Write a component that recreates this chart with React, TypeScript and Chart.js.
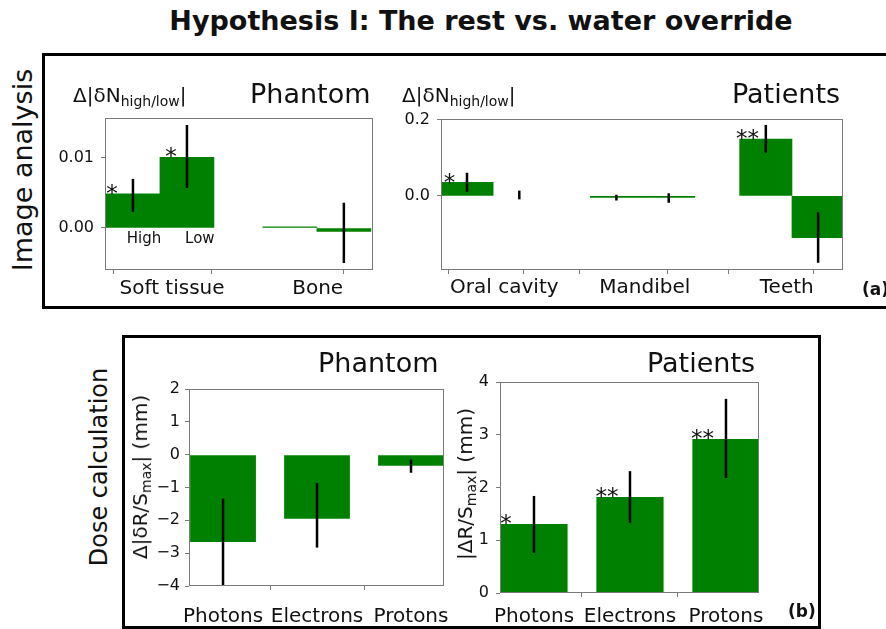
import React, { useEffect, useRef } from 'react';
import { Chart, registerables } from 'chart.js';

Chart.register(...registerables);

const FONT = "'DejaVu Sans', 'Noto Sans', sans-serif";
const GREEN = '#008000';
const AXIS = '#7a7a7a';
const INK = '#111111';

// ---------- (a) Image analysis : Phantom ----------
const phantomAPos = [0, 0.456, 1.325, 1.781];
const phantomAValues = [0.00486, 0.0101, 0.00015, -0.0005];
const phantomAErrLow = [0.0023, 0.0057, null, -0.005];
const phantomAErrHigh = [0.007, 0.0147, null, 0.0036];
const phantomACategories = ['Soft tissue', 'Bone'];
const phantomACategoryPos = [0.33, 1.56];
const phantomATickMarks = [0, 1, 2];
const phantomAYTicks = [0, 0.01];
const phantomAYTickLabels = ['0.00', '0.01'];
const phantomAStars = [
  { x: -0.177, y: 0.00571, text: '*' },
  { x: 0.321, y: 0.011, text: '*' },
];
const phantomALevels = [
  { x: 0.093, y: -0.00143, text: 'High' },
  { x: 0.565, y: -0.00143, text: 'Low' },
];

// ---------- (a) Image analysis : Patients ----------
const patientsAPos = [0, 0.7, 2, 2.7, 4, 4.7];
const patientsAValues = [0.036, 0.0, -0.004, -0.004, 0.15, -0.11];
const patientsAErrLow = [0.011, -0.009, -0.012, -0.018, 0.114, -0.176];
const patientsAErrHigh = [0.061, 0.014, 0.003, 0.007, 0.187, -0.043];
const patientsACategories = ['Oral cavity', 'Mandibel', 'Teeth'];
const patientsACategoryPos = [0.5, 2.38, 4.28];
const patientsATickMarks = [0, 1, 2, 3, 4, 5];
const patientsAYTicks = [0, 0.2];
const patientsAYTickLabels = ['0.0', '0.2'];
const patientsAStars = [
  { x: -0.234, y: 0.0487, text: '*' },
  { x: 3.755, y: 0.166, text: '**' },
];

// ---------- (b) Dose calculation : Phantom ----------
const beams = ['Photons', 'Electrons', 'Protons'];
const beamPos = [0, 1, 2];
const phantomBValues = [-2.66, -1.95, -0.34];
const phantomBErrLow = [-3.98, -2.83, -0.55];
const phantomBErrHigh = [-1.34, -0.86, -0.15];
const phantomBYTicks = [-4, -3, -2, -1, 0, 1, 2];
const phantomBYTickLabels = ['\u22124', '\u22123', '\u22122', '\u22121', '0', '1', '2'];

// ---------- (b) Dose calculation : Patients ----------
const patientsBValues = [1.31, 1.82, 2.92];
const patientsBErrLow = [0.76, 1.33, 2.18];
const patientsBErrHigh = [1.84, 2.31, 3.68];
const patientsBYTicks = [0, 1, 2, 3, 4];
const patientsBYTickLabels = ['0', '1', '2', '3', '4'];
const patientsBStars = [
  { x: -0.292, y: 1.42, text: '*' },
  { x: 0.76, y: 1.924, text: '**' },
  { x: 1.755, y: 3.024, text: '**' },
];

type Note = { x: number; y: number; text: string };
type Spec = {
  pos: number[];
  values: number[];
  errLow: (number | null)[];
  errHigh: (number | null)[];
  xMin: number;
  xMax: number;
  yMin: number;
  yMax: number;
  marks: number[];
  catPos: number[];
  cats: string[];
  yTicks: number[];
  yTickLabels: string[];
  stars: Note[];
  levels: Note[];
  barPct: number;
  box: { left: number; top: number; width: number; height: number };
  area: { left: number; top: number; right: number; bottom: number };
  xPad: number;
  yPad: number;
};

type XTick = { value: number; label: string; mark: boolean };

function buildXTicks(marks: number[], catPos: number[], cats: string[]): XTick[] {
  const list: XTick[] = marks.map((v) => ({ value: v, label: '', mark: true }));
  catPos.forEach((v, i) => {
    const ex = list.find((t) => Math.abs(t.value - v) < 1e-9);
    if (ex) ex.label = cats[i];
    else list.push({ value: v, label: cats[i], mark: false });
  });
  return list.sort((a, b) => a.value - b.value);
}

const TICK_LEN = 4;

function decorPlugin(spec: Spec) {
  return {
    id: 'decor',
    afterDatasetsDraw(chart: any) {
      const { ctx, chartArea: a } = chart;
      const xs = chart.scales.xb;
      const ys = chart.scales.y;
      // error bars
      ctx.save();
      ctx.beginPath();
      ctx.rect(a.left, a.top, a.right - a.left, a.bottom - a.top);
      ctx.clip();
      ctx.strokeStyle = '#000';
      ctx.lineWidth = 2.5;
      spec.pos.forEach((p, i) => {
        const lo = spec.errLow[i];
        const hi = spec.errHigh[i];
        if (lo == null || hi == null) return;
        const x = xs.getPixelForValue(p);
        ctx.beginPath();
        ctx.moveTo(x, ys.getPixelForValue(lo));
        ctx.lineTo(x, ys.getPixelForValue(hi));
        ctx.stroke();
      });
      ctx.restore();
      // frame
      ctx.save();
      ctx.strokeStyle = AXIS;
      ctx.lineWidth = 1;
      const l = Math.round(a.left);
      const t = Math.round(a.top);
      const r = Math.round(a.right);
      const b = Math.round(a.bottom);
      ctx.strokeRect(l + 0.5, t + 0.5, r - l - 1, b - t - 1);
      ctx.restore();
      // notes
      ctx.save();
      ctx.fillStyle = INK;
      ctx.textAlign = 'center';
      ctx.textBaseline = 'alphabetic';
      const starSize = 23;
      ctx.font = `${starSize}px ${FONT}`;
      spec.stars.forEach((n) => {
        ctx.fillText(n.text, xs.getPixelForValue(n.x), ys.getPixelForValue(n.y) + starSize * 0.55);
      });
      const lvlSize = 15;
      ctx.font = `${lvlSize}px ${FONT}`;
      spec.levels.forEach((n) => {
        ctx.fillText(n.text, xs.getPixelForValue(n.x), ys.getPixelForValue(n.y) + lvlSize * 0.36);
      });
      ctx.restore();
    },
  };
}

function ChartPanel({ spec }: { spec: Spec }) {
  const ref = useRef<HTMLCanvasElement>(null);
  useEffect(() => {
    const canvas = ref.current;
    if (!canvas) return;
    const { box, area } = spec;
    const yW = area.left - box.left;
    const xH = box.top + box.height - area.bottom;
    const xTicks = buildXTicks(spec.marks, spec.catPos, spec.cats);
    const chart = new Chart(canvas, {
      type: 'bar',
      data: {
        datasets: [
          {
            data: spec.pos.map((x, i) => ({ x, y: spec.values[i] })),
            backgroundColor: spec.values.map((v) => (v === 0 ? 'rgba(0,0,0,0)' : GREEN)),
            borderWidth: 0,
            xAxisID: 'xb',
            yAxisID: 'y',
            barPercentage: spec.barPct,
            categoryPercentage: 1,
          } as any,
        ],
      },
      options: {
        animation: false,
        responsive: false,
        maintainAspectRatio: false,
        events: [],
        layout: {
          padding: {
            left: 0,
            top: area.top - box.top,
            right: box.left + box.width - area.right,
            bottom: 0,
          },
        },
        plugins: { legend: { display: false }, tooltip: { enabled: false } },
        scales: {
          xb: {
            type: 'linear',
            display: false,
            min: spec.xMin,
            max: spec.xMax,
            offset: false,
            afterBuildTicks: (s: any) => {
              s.ticks = spec.pos.map((v) => ({ value: v }));
            },
          },
          x: {
            type: 'linear',
            position: 'bottom',
            min: spec.xMin,
            max: spec.xMax,
            offset: false,
            afterBuildTicks: (s: any) => {
              s.ticks = xTicks.map((t) => ({ value: t.value }));
            },
            afterFit: (s: any) => {
              s.height = xH;
            },
            border: { display: false },
            grid: {
              drawOnChartArea: false,
              drawTicks: true,
              tickLength: TICK_LEN,
              tickWidth: 1,
              tickColor: (c: any) => (xTicks[c.index] && xTicks[c.index].mark ? AXIS : 'rgba(0,0,0,0)'),
            },
            ticks: {
              autoSkip: false,
              maxRotation: 0,
              minRotation: 0,
              padding: spec.xPad,
              color: INK,
              font: { family: FONT, size: 20 },
              callback: (_v: any, i: number) => (xTicks[i] ? xTicks[i].label : ''),
            },
          },
          y: {
            type: 'linear',
            position: 'left',
            min: spec.yMin,
            max: spec.yMax,
            afterBuildTicks: (s: any) => {
              s.ticks = spec.yTicks.map((v) => ({ value: v }));
            },
            afterFit: (s: any) => {
              s.width = yW;
            },
            border: { display: false },
            grid: {
              drawOnChartArea: false,
              drawTicks: true,
              tickLength: TICK_LEN,
              tickWidth: 1,
              tickColor: AXIS,
            },
            ticks: {
              padding: spec.yPad,
              color: INK,
              font: { family: FONT, size: 16 },
              callback: (_v: any, i: number) => spec.yTickLabels[i] ?? '',
            },
          },
        } as any,
      },
      plugins: [decorPlugin(spec)],
    });
    return () => chart.destroy();
  }, [spec]);
  const { box } = spec;
  return (
    <canvas
      ref={ref}
      width={box.width}
      height={box.height}
      style={{ position: 'absolute', left: box.left, top: box.top, width: box.width, height: box.height }}
    />
  );
}

const specA1: Spec = {
  pos: phantomAPos,
  values: phantomAValues,
  errLow: phantomAErrLow,
  errHigh: phantomAErrHigh,
  xMin: -0.236,
  xMax: 2.027,
  yMin: -0.006,
  yMax: 0.0157,
  marks: phantomATickMarks,
  catPos: phantomACategoryPos,
  cats: phantomACategories,
  yTicks: phantomAYTicks,
  yTickLabels: phantomAYTickLabels,
  stars: phantomAStars,
  levels: phantomALevels,
  barPct: 1,
  box: { left: 45, top: 100, width: 350, height: 209 },
  area: { left: 105, top: 118, right: 373, bottom: 270 },
  xPad: 3,
  yPad: 7,
};

const specA2: Spec = {
  pos: patientsAPos,
  values: patientsAValues,
  errLow: patientsAErrLow,
  errHigh: patientsAErrHigh,
  xMin: -0.348,
  xMax: 5.033,
  yMin: -0.195,
  yMax: 0.2026,
  marks: patientsATickMarks,
  catPos: patientsACategoryPos,
  cats: patientsACategories,
  yTicks: patientsAYTicks,
  yTickLabels: patientsAYTickLabels,
  stars: patientsAStars,
  levels: [],
  barPct: 1,
  box: { left: 390, top: 100, width: 480, height: 209 },
  area: { left: 441, top: 119, right: 843, bottom: 270 },
  xPad: 2,
  yPad: 7,
};

const specB1: Spec = {
  pos: beamPos,
  values: phantomBValues,
  errLow: phantomBErrLow,
  errHigh: phantomBErrHigh,
  xMin: -0.362,
  xMax: 2.351,
  yMin: -4,
  yMax: 2,
  marks: beamPos,
  catPos: beamPos,
  cats: beams,
  yTicks: phantomBYTicks,
  yTickLabels: phantomBYTickLabels,
  stars: [],
  levels: [],
  barPct: 0.7,
  box: { left: 125, top: 365, width: 350, height: 264 },
  area: { left: 189, top: 389, right: 444, bottom: 586 },
  xPad: 15,
  yPad: 5,
};

const specB2: Spec = {
  pos: beamPos,
  values: patientsBValues,
  errLow: patientsBErrLow,
  errHigh: patientsBErrHigh,
  xMin: -0.354,
  xMax: 2.344,
  yMin: 0,
  yMax: 4,
  marks: beamPos,
  catPos: beamPos,
  cats: beams,
  yTicks: patientsBYTicks,
  yTickLabels: patientsBYTickLabels,
  stars: patientsBStars,
  levels: [],
  barPct: 0.7,
  box: { left: 470, top: 360, width: 330, height: 269 },
  area: { left: 500, top: 382, right: 759, bottom: 593 },
  xPad: 8,
  yPad: 7,
};

function Label({
  x,
  y,
  size,
  bold,
  center,
  rotate,
  children,
}: {
  x: number;
  y: number;
  size: number;
  bold?: boolean;
  center?: boolean;
  rotate?: boolean;
  children: React.ReactNode;
}) {
  let transform = 'translateY(-50%)';
  if (center) transform = 'translate(-50%, -50%)';
  if (rotate) transform = 'translate(-50%, -50%) rotate(-90deg)';
  return (
    <div
      style={{
        position: 'absolute',
        left: x,
        top: y,
        transform,
        fontFamily: FONT,
        fontSize: size,
        fontWeight: bold ? 'bold' : 'normal',
        lineHeight: 1,
        whiteSpace: 'nowrap',
        color: INK,
      }}
    >
      {children}
    </div>
  );
}

const Sub = ({ children }: { children: React.ReactNode }) => (
  <span style={{ fontSize: 14, position: 'relative', top: 4 }}>{children}</span>
);

export default function App() {
  return (
    <div
      style={{
        position: 'absolute',
        left: 0,
        top: 0,
        width: 886,
        height: 629,
        background: '#ffffff',
        overflow: 'hidden',
        fontFamily: FONT,
      }}
    >
      <Label x={481} y={20} size={27} bold center>
        Hypothesis I: The rest vs. water override
      </Label>

      {/* panel (a) frame */}
      <div
        style={{
          position: 'absolute',
          left: 42,
          top: 53,
          width: 900,
          height: 256,
          border: '3px solid #000',
          boxSizing: 'border-box',
        }}
      />
      {/* panel (b) frame */}
      <div
        style={{
          position: 'absolute',
          left: 122,
          top: 335,
          width: 699,
          height: 294,
          border: '3px solid #000',
          boxSizing: 'border-box',
        }}
      />

      <ChartPanel spec={specA1} />
      <ChartPanel spec={specA2} />
      <ChartPanel spec={specB1} />
      <ChartPanel spec={specB2} />

      <Label x={22} y={170} size={27} rotate>
        Image analysis
      </Label>
      <Label x={99} y={467} size={24} rotate>
        Dose calculation
      </Label>

      <Label x={250} y={93} size={27}>
        Phantom
      </Label>
      <Label x={732} y={93} size={27}>
        Patients
      </Label>
      <Label x={318} y={362} size={27}>
        Phantom
      </Label>
      <Label x={647} y={362} size={27}>
        Patients
      </Label>

      <Label x={73} y={95} size={20}>
        Δ|δN<Sub>high/low</Sub>|
      </Label>
      <Label x={402} y={95} size={20}>
        Δ|δN<Sub>high/low</Sub>|
      </Label>

      <Label x={140} y={477} size={20} rotate>
        Δ|δR/S<Sub>max</Sub>| (mm)
      </Label>
      <Label x={465} y={484} size={20} rotate>
        |ΔR/S<Sub>max</Sub>| (mm)
      </Label>

      <Label x={862} y={289} size={17} bold>
        (a)
      </Label>
      <Label x={788} y={611} size={17} bold>
        (b)
      </Label>
    </div>
  );
}
